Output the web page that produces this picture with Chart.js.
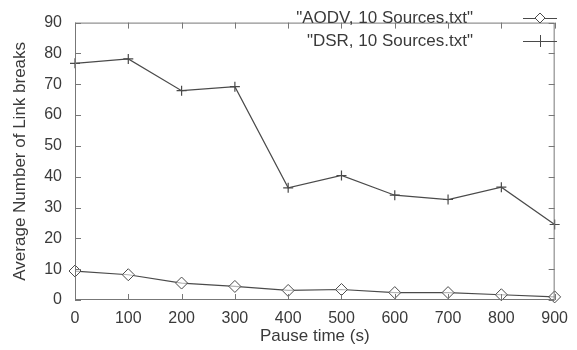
<!DOCTYPE html>
<html>
<head>
<meta charset="utf-8">
<title>Link breaks vs pause time</title>
<script src="https://cdn.jsdelivr.net/npm/chart.js"></script>
<style>
  html, body { margin: 0; padding: 0; background: #fff; }
  #wrap { width: 577px; height: 350px; }
</style>
</head>
<body>
<div id="wrap"><canvas id="chart" width="577" height="350"></canvas></div>
<script>
// pause times (s) and average link breaks per protocol
const pauseTimes = [0, 100, 200, 300, 400, 500, 600, 700, 800, 900];
const aodvBreaks = [9.4, 8.2, 5.5, 4.4, 3.1, 3.4, 2.4, 2.4, 1.7, 1.0];
const dsrBreaks = [76.8, 78.2, 67.9, 69.2, 36.4, 40.4, 34.0, 32.6, 36.6, 24.5];
const seriesNames = ['"AODV, 10 Sources.txt"', '"DSR, 10 Sources.txt"'];

const ink = '#4a4a4a';
const textInk = '#3a3a3a';
const font = 'Liberation Sans, Arial, sans-serif';

// gnuplot style: small inward ticks on all four sides plus key in the top right corner
const framePlugin = {
  id: 'frame',
  afterDatasetsDraw(chart) {
    const { ctx, chartArea: a, scales } = chart;
    ctx.save();
    ctx.strokeStyle = '#777';
    ctx.lineWidth = 1;
    ctx.strokeRect(a.left + 0.5, a.top + 0.5, a.right - a.left - 1, a.bottom - a.top - 1);
    ctx.beginPath();
    scales.x.ticks.forEach(t => {
      const px = Math.round(scales.x.getPixelForValue(t.value)) + 0.5;
      ctx.moveTo(px, a.bottom); ctx.lineTo(px, a.bottom - 6);
      ctx.moveTo(px, a.top); ctx.lineTo(px, a.top + 6);
    });
    scales.y.ticks.forEach(t => {
      const py = Math.round(scales.y.getPixelForValue(t.value)) + 0.5;
      ctx.moveTo(a.left, py); ctx.lineTo(a.left + 6, py);
      ctx.moveTo(a.right, py); ctx.lineTo(a.right - 6, py);
    });
    ctx.stroke();

    // key
    ctx.font = '17px ' + font;
    ctx.fillStyle = textInk;
    ctx.textAlign = 'right';
    ctx.textBaseline = 'middle';
    const rows = [18, 41];
    chart.data.datasets.forEach((ds, i) => {
      const y = rows[i];
      ctx.fillText(seriesNames[i], 473, y);
      ctx.strokeStyle = ink;
      ctx.beginPath();
      ctx.moveTo(523, y + 0.5); ctx.lineTo(557, y + 0.5);
      ctx.stroke();
      if (ds.pointStyle === 'rectRot') {
        ctx.beginPath();
        ctx.moveTo(540, y - 5); ctx.lineTo(545, y); ctx.lineTo(540, y + 5); ctx.lineTo(535, y);
        ctx.closePath();
        ctx.fillStyle = '#fff';
        ctx.fill();
        ctx.stroke();
        ctx.fillStyle = textInk;
      } else {
        ctx.beginPath();
        ctx.moveTo(540.5, y - 6); ctx.lineTo(540.5, y + 6);
        ctx.stroke();
      }
    });
    ctx.restore();
  }
};

new Chart(document.getElementById('chart'), {
  type: 'line',
  data: {
    datasets: [
      {
        label: seriesNames[0],
        data: pauseTimes.map((x, i) => ({ x, y: aodvBreaks[i] })),
        borderColor: ink,
        borderWidth: 1.2,
        pointStyle: 'rectRot',
        pointRadius: 6,
        pointBorderWidth: 1,
        pointBackgroundColor: 'rgba(255,255,255,0.6)',
        pointBorderColor: ink,
        tension: 0,
        clip: false
      },
      {
        label: seriesNames[1],
        data: pauseTimes.map((x, i) => ({ x, y: dsrBreaks[i] })),
        borderColor: ink,
        borderWidth: 1.2,
        pointStyle: 'cross',
        pointRadius: 5,
        pointBorderWidth: 1.2,
        pointBorderColor: ink,
        tension: 0,
        clip: false
      }
    ]
  },
  options: {
    responsive: false,
    animation: false,
    layout: { padding: { top: 13, right: 3, left: 0, bottom: 0 } },
    plugins: { legend: { display: false }, tooltip: { enabled: false } },
    scales: {
      x: {
        type: 'linear',
        min: 0,
        max: 900,
        ticks: { stepSize: 100, color: textInk, font: { size: 16, family: font }, padding: 9 },
        grid: { display: false, drawTicks: false },
        border: { display: false },
        title: { display: true, text: 'Pause time (s)', color: textInk, font: { size: 17, family: font }, padding: { top: 0, bottom: 3 } },
        afterFit(scale) { scale.height = 50; }
      },
      y: {
        min: 0,
        max: 90,
        ticks: { stepSize: 10, color: textInk, font: { size: 16, family: font }, padding: 13 },
        grid: { display: false, drawTicks: false },
        border: { display: false },
        title: { display: true, text: 'Average Number of Link breaks', color: textInk, font: { size: 17, family: font }, padding: { top: 10, bottom: 0 } },
        afterFit(scale) { scale.width = 75; }
      }
    }
  },
  plugins: [framePlugin]
});
</script>
</body>
</html>
